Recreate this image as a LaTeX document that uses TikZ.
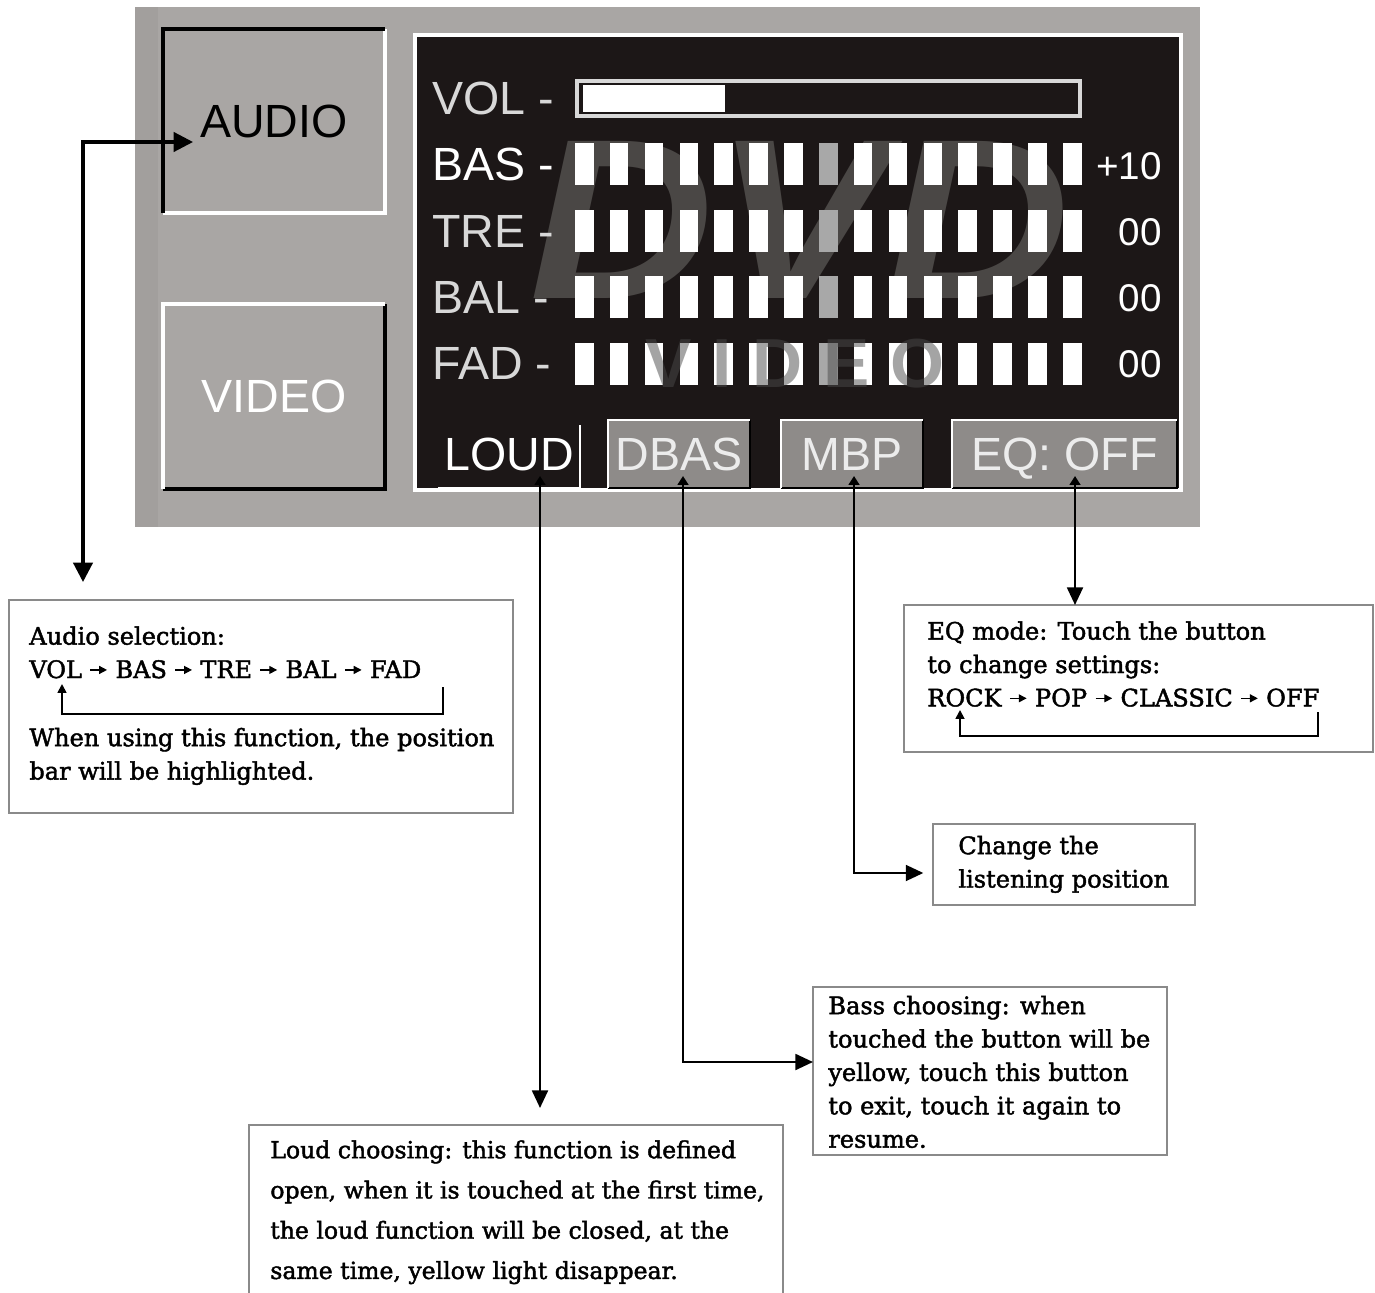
\documentclass[tikz,border=0pt]{standalone}
\usepackage{fontspec}
\setmainfont{DejaVu Serif}
\newfontfamily\capfont[FakeBold=1.8]{DejaVu Serif}
\newfontfamily\scrfont{Liberation Sans}
\usetikzlibrary{arrows.meta}
\definecolor{panel}{HTML}{A9A6A4}
\definecolor{scrbg}{HTML}{1C1717}
\definecolor{btn}{HTML}{8E8B89}
\definecolor{wmark}{HTML}{4A4745}
\definecolor{lblc}{HTML}{D8D8D8}
\definecolor{boxc}{HTML}{8A8A8A}
\definecolor{midbar}{HTML}{A8A8A8}
\definecolor{btntext}{HTML}{ECECEC}
\definecolor{wmvid}{HTML}{4A4A4A}
\newcommand\sarr{\tikz[baseline=-4.6pt]\draw[line width=0.8pt,-{Triangle[length=4.5pt,width=4.5pt]}](0pt,0pt)--(9.5pt,0pt);}
\begin{document}
\begin{tikzpicture}[x=0.02cm,y=-0.02cm,
  scrtxt/.style={font=\scrfont\fontsize{26.5}{30}\selectfont, inner sep=0pt},
  valtxt/.style={font=\scrfont\fontsize{22}{26}\selectfont, inner sep=0pt, text=white, anchor=base east},
  rowlbl/.style={scrtxt, anchor=base west, text=lblc},
  keybox/.style={anchor=north west, inner sep=0pt, outer sep=0pt, scrtxt, text depth=0pt},
  note/.style={draw=boxc, line width=1.1pt, anchor=north west, inner sep=0pt, outer sep=0pt},
  captxt/.style={font=\capfont\fontsize{13.7}{19}\selectfont, align=left, inner sep=0pt, anchor=north west},
  conn/.style={line width=1.4pt},
  loopc/.style={line width=1pt, -{Triangle[length=5pt,width=5pt]}},
]
\useasboundingbox (0,0) rectangle (1375,1293);
\fill[white] (0,0) rectangle (1375,1293);

% outer panel
\fill[panel] (135,7) rectangle (1200,527);
\fill[panel!96!black] (135,7) rectangle (158,527);

% AUDIO key (pressed look)
\node[keybox, minimum width=222*0.02cm, minimum height=184*0.02cm, text=black] (audiob) at (163,29) {AUDIO};
\draw[white, line width=1.8pt] (audiob.north east) -- (audiob.south east) -- (audiob.south west);
\draw[black, line width=1.8pt] (audiob.south west) -- (audiob.north west) -- (audiob.north east);

% VIDEO key (raised look)
\node[keybox, minimum width=222*0.02cm, minimum height=185*0.02cm, text=white] (videob) at (163,304) {VIDEO};
\draw[black, line width=1.8pt] (videob.north east) -- (videob.south east) -- (videob.south west);
\draw[white, line width=1.8pt] (videob.south west) -- (videob.north west) -- (videob.north east);

% screen
\draw[white, line width=2pt, fill=scrbg] (415,35) rectangle (1181,490);

% DVD watermark
\node[font=\scrfont\bfseries\itshape\fontsize{130}{130}\selectfont, text=wmark, inner sep=0pt, xscale=1.12, transform shape] (wmdvd) at (800,220) {DVD};

% row labels
\node[rowlbl] (lvol) at (432,115) {VOL -};
\node[rowlbl, text=white] (lbas) at (432,181) {BAS -};
\node[rowlbl] (ltre) at (432,248) {TRE -};
\node[rowlbl] (lbal) at (432,314) {BAL -};
\node[rowlbl] (lfad) at (432,380) {FAD -};

% volume bar
\draw[lblc, line width=1.8pt] (577,81) rectangle (1080,116);
\fill[white] (583,85) rectangle (725,112);

% level bars
\foreach \yt in {143,210,276,343}{
  \foreach \i in {0,...,14}{
    \fill[white] (575+\i*34.86,\yt) rectangle +(18.5,42);
  }
  \fill[midbar] (575+7*34.86,\yt) rectangle +(18.5,42);
}

% VIDEO watermark over the FAD row
\node[font=\scrfont\bfseries\fontsize{39.5}{40}\selectfont\addfontfeature{LetterSpace=30}, text=wmvid, opacity=0.5, inner sep=0pt] (wmvideo) at (795,364) {VIDEO};

% values
\node[valtxt] (vbas) at (1162,180) {+10};
\node[valtxt] (vtre) at (1162,246) {00};
\node[valtxt] (vbal) at (1162,312) {00};
\node[valtxt] (vfad) at (1162,378) {00};

% bottom keys
\node[keybox, minimum width=142*0.02cm, minimum height=68*0.02cm, text=white] (loud) at (438,420) {LOUD};
\draw[white, line width=1.6pt] (loud.south west) -- (loud.south east);
\draw[white, line width=1pt] (loud.south east) -- ([yshift=-3pt]loud.north east);

\node[keybox, fill=btn, minimum width=142*0.02cm, minimum height=68*0.02cm, text=btntext] (dbas) at (608,420) {DBAS};
\draw[black, line width=1.5pt] (dbas.south west) -- (dbas.south east) -- (dbas.north east);
\draw[white, line width=1.5pt] (dbas.south west) -- (dbas.north west) -- (dbas.north east);

\node[keybox, fill=btn, minimum width=142*0.02cm, minimum height=68*0.02cm, text=btntext] (mbp) at (781,420) {MBP};
\draw[black, line width=1.5pt] (mbp.south west) -- (mbp.south east) -- (mbp.north east);
\draw[white, line width=1.5pt] (mbp.south west) -- (mbp.north west) -- (mbp.north east);

\node[keybox, fill=btn, minimum width=225*0.02cm, minimum height=68*0.02cm, text=btntext] (eqb) at (952,420) {EQ: OFF};
\draw[black, line width=1.5pt] (eqb.south west) -- (eqb.south east) -- (eqb.north east);
\draw[white, line width=1.5pt] (eqb.south west) -- (eqb.north west) -- (eqb.north east);

% note boxes
\node[note, minimum width=504*0.02cm, minimum height=213*0.02cm] (audnote) at (9,600) {};
\node[captxt] (audtxt) at (29,626) {Audio selection:\\VOL \sarr\ BAS \sarr\ TRE \sarr\ BAL \sarr\ FAD\\[19.8pt]When using this function, the position\\bar will be highlighted.};

\node[note, minimum width=469*0.02cm, minimum height=147*0.02cm] (eqnote) at (904,605) {};
\node[captxt] (eqtxt) at (927,621) {EQ mode: Touch the button\\to change settings:\\ROCK \sarr\ POP \sarr\ CLASSIC \sarr\ OFF};

\node[note, minimum width=262*0.02cm, minimum height=81*0.02cm] (chgnote) at (933,824) {};
\node[captxt] (chgtxt) at (958,835.5) {Change the\\listening position};

\node[note, minimum width=354*0.02cm, minimum height=168*0.02cm] (basnote) at (813,987) {};
\node[captxt] (bastxt) at (828,995.5) {Bass choosing: when\\touched the button will be\\yellow, touch this button\\to exit, touch it again to\\resume.};

\node[note, minimum width=534*0.02cm, minimum height=190*0.02cm] (loudnote) at (249,1125) {};
\node[captxt, font=\capfont\fontsize{13.4}{22.9}\selectfont] (loudtxt) at (270,1140) {Loud choosing: this function is defined\\open, when it is touched at the first time,\\the loud function will be closed, at the\\same time, yellow light disappear.};

% loop arrows inside the notes
\coordinate (fadfoot) at (443,687);
\coordinate (volfoot) at (62,684);
\draw[loopc] (fadfoot) |- (253,714) -| (volfoot);
\coordinate (offfoot) at (1318,712);
\coordinate (rockfoot) at (960,710);
\draw[loopc] (offfoot) |- (1140,736) -| (rockfoot);

% connectors
\coordinate (audtip) at (193,142);
\coordinate (audend) at (83,582);
\draw[line width=1.8pt, {Triangle[length=11pt,width=11pt]}-{Triangle[length=11pt,width=11pt]}] (audtip) -| (audend);

\coordinate (loudtip) at (540,476);
\coordinate (loudend) at (540,1108);
\draw[conn, {Triangle[length=5pt,width=6pt]}-{Triangle[length=10pt,width=9pt]}] (loudtip) -- (loudend);

\coordinate (dbastip) at (683,476);
\draw[conn, {Triangle[length=5pt,width=6pt]}-{Triangle[length=10pt,width=9pt]}] (dbastip) |- (basnote.west |- 0,1062);

\coordinate (mbptip) at (854,476);
\draw[conn, {Triangle[length=5pt,width=6pt]}-{Triangle[length=10pt,width=9pt]}] (mbptip) |- ([xshift=-5.5pt]chgnote.west |- 0,873);

\coordinate (eqtip) at (1075,476);
\draw[conn, {Triangle[length=5pt,width=6pt]}-{Triangle[length=10pt,width=9pt]}] (eqtip) -- (eqtip |- eqnote.north);
\end{tikzpicture}
\end{document}
